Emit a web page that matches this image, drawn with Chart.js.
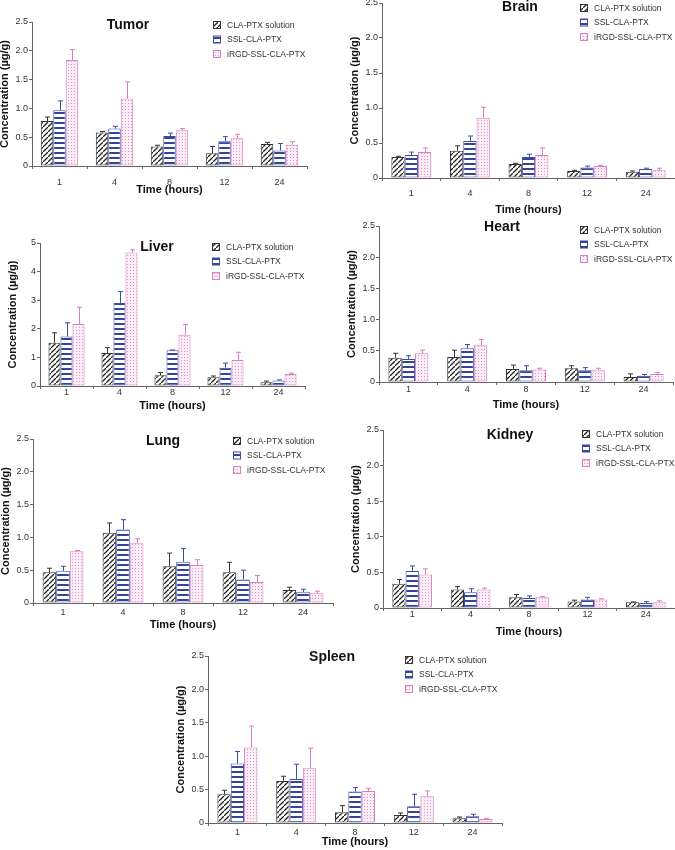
<!DOCTYPE html>
<html>
<head>
  <title>Biodistribution</title>
  <script src="https://cdn.jsdelivr.net/npm/chart.js"></script>
  <style>
    body{
        margin:0px;
        padding:0px;
        background:#ffffff;
        width:675px;
        height:850px;
        overflow:hidden;
        position:relative;
    }
    canvas{
        position:absolute;
    }
  </style>
</head>
<body>
<div id="wrap"></div>
<script>
  // time points and groups
  var times = ['1', '4', '8', '12', '24'];
  var groups = ['CLA-PTX solution', 'SSL-CLA-PTX', 'iRGD-SSL-CLA-PTX'];

  // mean values (ug/g), one row per group
  var tumorMean  = [[0.78,0.58,0.34,0.22,0.38],[0.97,0.65,0.52,0.43,0.27],[1.84,1.17,0.62,0.48,0.37]];
  var tumorSD    = [[0.07,0.02,0.02,0.12,0.03],[0.16,0.04,0.05,0.08,0.12],[0.18,0.29,0.03,0.07,0.05]];
  var brainMean  = [[0.30,0.39,0.20,0.10,0.09],[0.33,0.53,0.30,0.15,0.13],[0.37,0.86,0.33,0.17,0.11]];
  var brainSD    = [[0.01,0.07,0.01,0.01,0.01],[0.04,0.07,0.04,0.02,0.01],[0.06,0.15,0.10,0.01,0.03]];
  var liverMean  = [[1.51,1.15,0.38,0.31,0.13],[1.73,2.90,1.25,0.64,0.19],[2.17,4.67,1.79,0.91,0.42]];
  var liverSD    = [[0.35,0.19,0.09,0.04,0.04],[0.48,0.40,0.01,0.16,0.02],[0.58,0.09,0.36,0.27,0.03]];
  var heartMean  = [[0.39,0.40,0.21,0.22,0.08],[0.37,0.54,0.19,0.19,0.10],[0.46,0.59,0.20,0.19,0.13]];
  var heartSD    = [[0.07,0.11,0.06,0.04,0.05],[0.05,0.06,0.07,0.04,0.02],[0.05,0.09,0.02,0.03,0.02]];
  var lungMean   = [[0.47,1.07,0.56,0.47,0.20],[0.49,1.12,0.63,0.36,0.17],[0.79,0.91,0.58,0.32,0.15]];
  var lungSD     = [[0.06,0.15,0.20,0.15,0.04],[0.07,0.15,0.20,0.14,0.04],[0.01,0.07,0.08,0.10,0.03]];
  var kidneyMean = [[0.34,0.26,0.15,0.09,0.08],[0.52,0.22,0.14,0.12,0.07],[0.47,0.26,0.15,0.12,0.08]];
  var kidneySD   = [[0.06,0.04,0.04,0.02,0.005],[0.07,0.05,0.03,0.03,0.02],[0.08,0.02,0.01,0.01,0.02]];
  var spleenMean = [[0.43,0.63,0.16,0.12,0.07],[0.89,0.66,0.47,0.25,0.10],[1.13,0.82,0.48,0.40,0.06]];
  var spleenSD   = [[0.06,0.07,0.10,0.03,0.02],[0.18,0.22,0.06,0.18,0.03],[0.32,0.30,0.04,0.08,0.01]];

  var FONT = "'Liberation Sans', Arial, sans-serif";
  var edgeColors = ['#333333', '#3c4c9e', '#d77fbf'];

  // panel placement on the page: box = [axisX, topY, rightX, zeroY]
  var panels = [
    {name:'Tumor',  mean:tumorMean,  sd:tumorSD,  max:2.5, step:0.5, box:[32,22,307,166],  title:[128,25],  legend:[213,25],  tickOff:17, xtOff:24},
    {name:'Brain',  mean:brainMean,  sd:brainSD,  max:2.5, step:0.5, box:[382,3,675,178],  title:[520,7],   legend:[580,8],   tickOff:16, xtOff:32},
    {name:'Liver',  mean:liverMean,  sd:liverSD,  max:5,   step:1,   box:[40,243,305,386], title:[157,247], legend:[212,247], tickOff:7,  xtOff:20},
    {name:'Heart',  mean:heartMean,  sd:heartSD,  max:2.5, step:0.5, box:[379,226,673,382],title:[502,227], legend:[580,230], tickOff:8,  xtOff:23},
    {name:'Lung',   mean:lungMean,   sd:lungSD,   max:2.5, step:0.5, box:[33,439,333,603], title:[163,441], legend:[233,441], tickOff:10, xtOff:22},
    {name:'Kidney', mean:kidneyMean, sd:kidneySD, max:2.5, step:0.5, box:[383,430,675,608],title:[510,435], legend:[582,434], tickOff:7,  xtOff:24},
    {name:'Spleen', mean:spleenMean, sd:spleenSD, max:2.5, step:0.5, box:[208,656,502,823],title:[332,657], legend:[405,660], tickOff:10, xtOff:19}
  ];

  function makeTile(w, h, draw){
    var c = document.createElement('canvas');
    c.width = w; c.height = h;
    var g = c.getContext('2d');
    draw(g, w, h);
    return c;
  }

  function getPatterns(ctx){
    var hatch = makeTile(5, 5, function(g, w, h){
      g.fillStyle = '#ffffff'; g.fillRect(0,0,w,h);
      g.strokeStyle = '#222222'; g.lineWidth = 1.3;
      g.beginPath();
      g.moveTo(-1, h+1); g.lineTo(w+1, -1);
      g.moveTo(-2, 1); g.lineTo(1, -2);
      g.moveTo(w-1, h+2); g.lineTo(w+2, h-1);
      g.stroke();
    });
    var stripes = makeTile(6, 5, function(g, w, h){
      g.fillStyle = '#ffffff'; g.fillRect(0,0,w,h);
      g.fillStyle = '#34449a'; g.fillRect(0,0,w,2);
    });
    var dots = makeTile(3, 3, function(g, w, h){
      g.fillStyle = '#fbeef7'; g.fillRect(0,0,w,h);
      g.fillStyle = '#dc93cb'; g.fillRect(1,1,1,1);
    });
    return [ctx.createPattern(hatch,'repeat'), ctx.createPattern(stripes,'repeat'), ctx.createPattern(dots,'repeat')];
  }

  // error bars (upper whisker only), drawn with the chart's y scale
  var errorBars = {
    id:'errorBars',
    afterDatasetsDraw: function(chart){
      var ctx = chart.ctx, ys = chart.scales.y;
      chart.data.datasets.forEach(function(ds, i){
        var meta = chart.getDatasetMeta(i);
        ctx.save();
        ctx.strokeStyle = edgeColors[i];
        ctx.lineWidth = 1;
        meta.data.forEach(function(bar, j){
          var top = ys.getPixelForValue(ds.data[j] + ds.sd[j]);
          var x = Math.round(bar.x) + 0.5;
          ctx.beginPath();
          ctx.moveTo(x, bar.y);
          ctx.lineTo(x, top);
          ctx.moveTo(x - 2.5, top);
          ctx.lineTo(x + 2.5, top);
          ctx.stroke();
        });
        ctx.restore();
      });
    }
  };

  // organ title and in-plot legend
  var decor = {
    id:'decor',
    afterDraw: function(chart){
      var o = chart.options.plugins.decor;
      var ctx = chart.ctx;
      ctx.save();
      ctx.fillStyle = '#111111';
      ctx.font = 'bold 14px ' + FONT;
      ctx.textAlign = 'center';
      ctx.textBaseline = 'middle';
      ctx.fillText(o.title, o.tx, o.ty);
      ctx.font = '8.5px ' + FONT;
      ctx.textAlign = 'left';
      chart.data.datasets.forEach(function(ds, i){
        var y = o.ly + i * 14.5;
        ctx.fillStyle = ds.backgroundColor;
        ctx.fillRect(o.lx, y - 3.5, 7, 7);
        ctx.strokeStyle = ds.borderColor;
        ctx.lineWidth = 1;
        ctx.strokeRect(o.lx + 0.5, y - 3.5, 7, 7);
        ctx.fillStyle = '#333333';
        ctx.fillText(ds.label, o.lx + 14, y + 0.5);
      });
      ctx.restore();
    }
  };

  var wrap = document.getElementById('wrap');
  var yW = 34, padTop = 10, padRight = 3;

  panels.forEach(function(p){
    var ax = p.box[0], top = p.box[1], right = p.box[2], zero = p.box[3];
    var xH = p.xtOff + 7;
    var left = ax - yW;
    var cTop = top - padTop;
    var canvas = document.createElement('canvas');
    canvas.width = right - left + padRight;
    canvas.height = zero + xH - cTop;
    canvas.style.left = left + 'px';
    canvas.style.top = cTop + 'px';
    wrap.appendChild(canvas);
    var ctx = canvas.getContext('2d');
    var pats = getPatterns(ctx);

    var datasets = groups.map(function(g, i){
      return {
        label: g,
        data: p.mean[i],
        sd: p.sd[i],
        backgroundColor: pats[i],
        borderColor: edgeColors[i],
        borderWidth: 1,
        borderSkipped: false,
        categoryPercentage: 0.68,
        barPercentage: 1.0
      };
    });

    new Chart(ctx, {
      type: 'bar',
      data: { labels: times, datasets: datasets },
      options: {
        responsive: false,
        animation: false,
        devicePixelRatio: 1,
        layout: { padding: { top: padTop, right: padRight, left: 0, bottom: 0 } },
        plugins: {
          legend: { display: false },
          tooltip: { enabled: false },
          decor: { title: p.name, tx: p.title[0] - left, ty: p.title[1] - cTop, lx: p.legend[0] - left, ly: p.legend[1] - cTop }
        },
        scales: {
          x: {
            offset: true,
            grid: { display: true, drawOnChartArea: false, offset: true, tickLength: 3, color: '#666666' },
            border: { display: true, color: '#666666', width: 1 },
            ticks: { color: '#333333', font: { family: FONT, size: 9 }, padding: p.tickOff - 3 - 5.4, maxRotation: 0, autoSkip: false },
            title: { display: true, text: 'Time (hours)', color: '#111111', font: { family: FONT, size: 11, weight: 'bold' }, padding: 0 },
            afterFit: function(s){ s.height = xH; }
          },
          y: {
            min: 0,
            max: p.max,
            grid: { display: true, drawOnChartArea: false, tickLength: 3, color: '#666666' },
            border: { display: true, color: '#666666', width: 1 },
            ticks: { stepSize: p.step, color: '#333333', font: { family: FONT, size: 9 }, padding: 1 },
            title: { display: true, text: 'Concentration (µg/g)', color: '#111111', font: { family: FONT, size: 11, weight: 'bold' }, padding: 0 },
            afterFit: function(s){ s.width = yW; }
          }
        }
      },
      plugins: [errorBars, decor]
    });
  });
</script>
</body>
</html>
